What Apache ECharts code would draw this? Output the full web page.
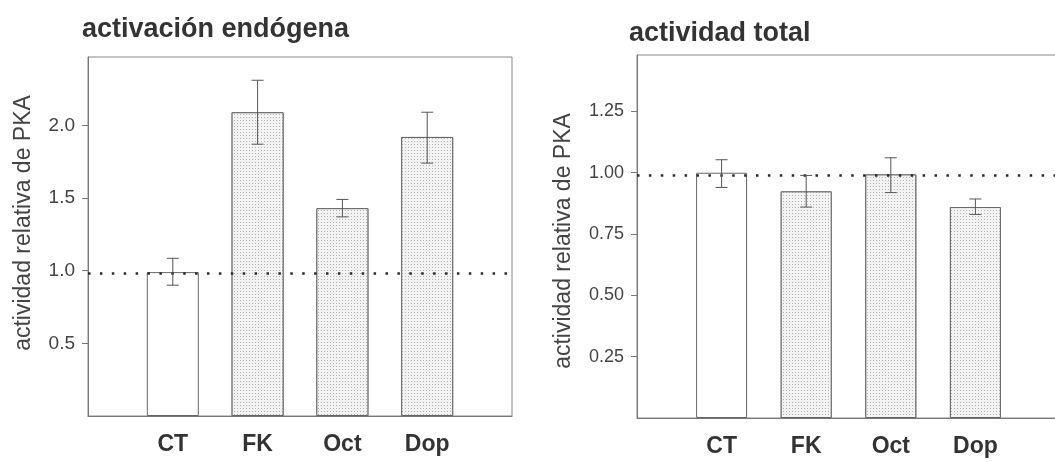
<!DOCTYPE html>
<html>
<head>
<meta charset="utf-8">
<script src="https://cdn.jsdelivr.net/npm/echarts@6/dist/echarts.min.js"></script>
<style>
html,body{margin:0;padding:0;background:#fff;}
#chart{width:1055px;height:462px;}
</style>
</head>
<body>
<div id="chart"></div>
<script>
// ---- data ----
const categories = ['CT', 'FK', 'Oct', 'Dop'];

const leftTitle = 'activación endógena';
const rightTitle = 'actividad total';
const yName = 'actividad relativa de PKA';

const leftValues = [0.99, 2.09, 1.43, 1.92];
const leftErrLow = [0.90, 1.87, 1.37, 1.74];
const leftErrHigh = [1.085, 2.31, 1.49, 2.09];
const leftTicks = [0.5, 1.0, 1.5, 2.0];
const leftRef = 0.985;

const rightValues = [1.00, 0.924, 0.993, 0.86];
const rightErrLow = [0.94, 0.86, 0.919, 0.83];
const rightErrHigh = [1.053, 0.989, 1.061, 0.893];
const rightTicks = [0.25, 0.50, 0.75, 1.00, 1.25];
const rightRef = 0.995;

// ---- build ----
const axisCats = [''].concat(categories, ['']);
const pad = arr => [null].concat(arr, [null]);

const FONT = '"Liberation Sans", Arial, sans-serif';
const dotDecal = {
  symbol: 'rect',
  symbolSize: 1,
  dashArrayX: [1, 2],
  dashArrayY: [1, 2],
  color: '#b4b4b4',
  backgroundColor: '#f3f3f3'
};

function barData(vals) {
  return pad(vals.map((v, i) => {
    if (i === 0) {
      return { value: v, itemStyle: { color: '#ffffff' } };
    }
    return { value: v, itemStyle: { color: '#f3f3f3', decal: dotDecal } };
  }));
}

function errData(lo, hi) {
  return lo.map((l, i) => [i + 1, l, hi[i]]);
}

function renderErr(params, api) {
  const x = api.value(0);
  const pLo = api.coord([x, api.value(1)]);
  const pHi = api.coord([x, api.value(2)]);
  const cw = 6;
  const st = { stroke: '#555', lineWidth: 1 };
  return {
    type: 'group',
    children: [
      { type: 'line', shape: { x1: pLo[0], y1: pLo[1], x2: pHi[0], y2: pHi[1] }, style: st },
      { type: 'line', shape: { x1: pHi[0] - cw, y1: pHi[1], x2: pHi[0] + cw, y2: pHi[1] }, style: st },
      { type: 'line', shape: { x1: pLo[0] - cw, y1: pLo[1], x2: pLo[0] + cw, y2: pLo[1] }, style: st }
    ]
  };
}

function makeX(gi) {
  return {
    type: 'category', gridIndex: gi, data: axisCats, boundaryGap: false,
    axisLine: { show: true, lineStyle: { color: '#777', width: 1 } },
    axisTick: { show: false },
    axisLabel: { interval: 0, margin: 17, fontFamily: FONT, fontSize: 23, fontWeight: 'bold', color: '#333' },
    splitLine: { show: false }
  };
}

function makeY(gi, max, ticks, dec, fs) {
  return {
    type: 'value', gridIndex: gi, min: 0, max: max,
    axisLine: { show: true, lineStyle: { color: '#777', width: 1 } },
    axisTick: { show: true, inside: false, length: 6, customValues: ticks, lineStyle: { color: '#777' } },
    axisLabel: { customValues: ticks, margin: 13, fontFamily: FONT, fontSize: fs, color: '#444',
      formatter: v => Number(v).toFixed(dec) },
    splitLine: { show: false }
  };
}

function refLine(v) {
  return {
    symbol: 'none', silent: true, animation: false,
    label: { show: false },
    lineStyle: { type: [2.5, 9.4], width: 2.5, color: '#2a2a2a', cap: 'butt' },
    data: [{ yAxis: v }]
  };
}

const chart = echarts.init(document.getElementById('chart'), null, { renderer: 'canvas' });

chart.setOption({
  animation: false,
  backgroundColor: '#ffffff',
  title: [
    { text: leftTitle, left: 82, top: 16, padding: 0, textStyle: { fontFamily: FONT, fontSize: 27, fontWeight: 'bold', color: '#333' } },
    { text: rightTitle, left: 629, top: 20, padding: 0, textStyle: { fontFamily: FONT, fontSize: 27, fontWeight: 'bold', color: '#333' } }
  ],
  graphic: [
    { type: 'text', x: 24, y: 223, rotation: Math.PI / 2,
      style: { text: yName, font: '23px ' + FONT, fill: '#444', align: 'center', verticalAlign: 'middle' } },
    { type: 'text', x: 564, y: 241, rotation: Math.PI / 2,
      style: { text: yName, font: '23px ' + FONT, fill: '#444', align: 'center', verticalAlign: 'middle' } }
  ],
  grid: [
    { left: 88, width: 424, top: 57, bottom: 46, show: true, borderColor: '#888', borderWidth: 1,
      containLabel: false, outerBoundsMode: 'none' },
    { left: 637, width: 423, top: 55, bottom: 44, show: true, borderColor: '#888', borderWidth: 1,
      containLabel: false, outerBoundsMode: 'none' }
  ],
  xAxis: [makeX(0), makeX(1)],
  yAxis: [makeY(0, 2.47, leftTicks, 1, 19), makeY(1, 1.48, rightTicks, 2, 18)],
  series: [
    { type: 'bar', xAxisIndex: 0, yAxisIndex: 0, barWidth: 52, data: barData(leftValues),
      itemStyle: { borderColor: '#666', borderWidth: 1 }, markLine: refLine(leftRef) },
    { type: 'custom', xAxisIndex: 0, yAxisIndex: 0, renderItem: renderErr, data: errData(leftErrLow, leftErrHigh), z: 5 },
    { type: 'bar', xAxisIndex: 1, yAxisIndex: 1, barWidth: 51, data: barData(rightValues),
      itemStyle: { borderColor: '#666', borderWidth: 1 }, markLine: refLine(rightRef) },
    { type: 'custom', xAxisIndex: 1, yAxisIndex: 1, renderItem: renderErr, data: errData(rightErrLow, rightErrHigh), z: 5 }
  ]
});
</script>
</body>
</html>
